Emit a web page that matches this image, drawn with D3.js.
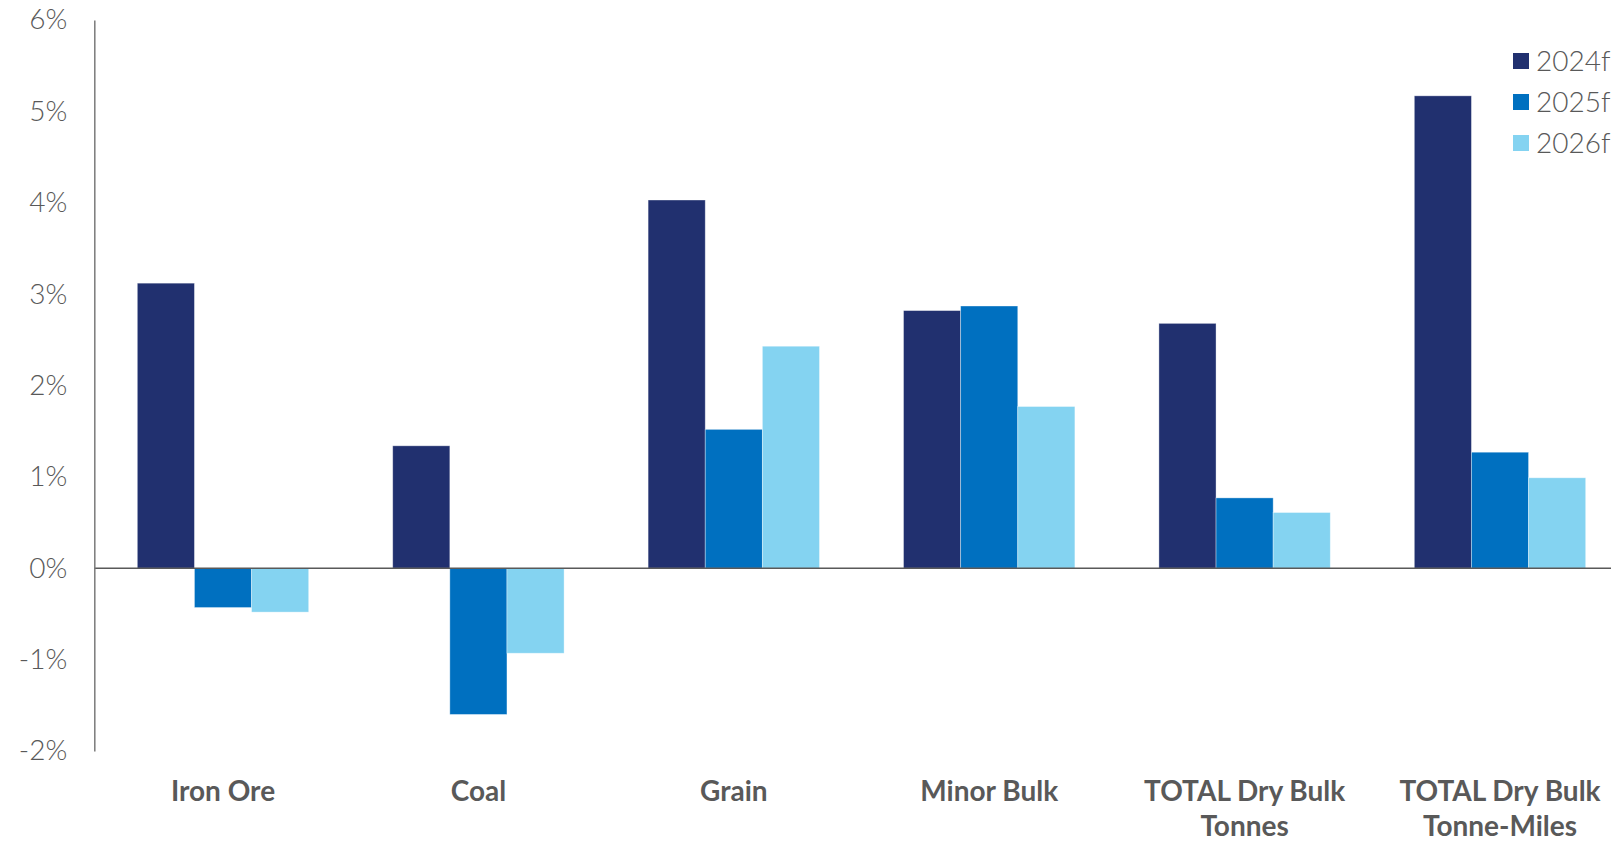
<!DOCTYPE html>
<html>
<head>
<meta charset="utf-8">
<script src="https://cdn.jsdelivr.net/npm/d3@7"></script>
<style>
  html, body { margin: 0; padding: 0; background: #fff; overflow: hidden; }
  svg { display: block; }
</style>
</head>
<body>
<svg id="chart" width="1611" height="841"></svg>
<script>
const categories = ["Iron Ore", "Coal", "Grain", "Minor Bulk", "TOTAL Dry Bulk Tonnes", "TOTAL Dry Bulk Tonne-Miles"];
const categoryLines = [["Iron Ore"], ["Coal"], ["Grain"], ["Minor Bulk"], ["TOTAL Dry Bulk", "Tonnes"], ["TOTAL Dry Bulk", "Tonne-Miles"]];
const seriesNames = ["2024f", "2025f", "2026f"];
const values2024f = [3.12, 1.34, 4.03, 2.82, 2.68, 5.17];
const values2025f = [-0.43, -1.60, 1.52, 2.87, 0.77, 1.27];
const values2026f = [-0.48, -0.93, 2.43, 1.77, 0.61, 0.99];
const seriesColors = ["#21306f", "#0070c0", "#84d3f1"];
const yTicks = [-2, -1, 0, 1, 2, 3, 4, 5, 6];

const seriesValues = [values2024f, values2025f, values2026f];
const data = categories.map((c, i) => ({
  category: c,
  lines: categoryLines[i],
  values: seriesNames.map((s, j) => ({ series: s, value: seriesValues[j][i] }))
}));

const svg = d3.select("#chart");
const font = "Lato, 'Open Sans', sans-serif";
const textColor = "#595959";

const y = d3.scaleLinear().domain([-2, 6]).range([751, 20]);
const pad = 0.329;
const x0 = d3.scaleBand().domain(categories).range([95.3, 1627.7])
  .paddingInner(pad).paddingOuter(pad / 2);
const x1 = d3.scaleBand().domain(seriesNames).range([0, x0.bandwidth()]).padding(0);
const color = d3.scaleOrdinal().domain(seriesNames).range(seriesColors);

// Bars
const groups = svg.append("g").selectAll("g").data(data).join("g")
  .attr("transform", d => `translate(${x0(d.category)},0)`);
groups.selectAll("rect").data(d => d.values).join("rect")
  .attr("x", d => x1(d.series))
  .attr("width", x1.bandwidth())
  .attr("y", d => y(Math.max(0, d.value)))
  .attr("height", d => Math.abs(y(d.value) - y(0)))
  .attr("fill", d => color(d.series))
  .attr("stroke", "rgba(255,255,255,0.45)")
  .attr("stroke-width", 0.8);

// Zero line
svg.append("line")
  .attr("x1", 94).attr("x2", 1611)
  .attr("y1", y(0)).attr("y2", y(0))
  .attr("stroke", "#595959").attr("stroke-width", 1.5);

// Y axis
const yAxis = svg.append("g")
  .attr("transform", "translate(94.3,0)")
  .call(d3.axisLeft(y).tickValues(yTicks).tickSize(0).tickPadding(27).tickFormat(d => d + "%"));
yAxis.select(".domain").attr("stroke", "#7a7a7a").attr("stroke-width", 1.5);
yAxis.selectAll("text")
  .attr("font-family", font).attr("font-size", 28).attr("font-weight", 300)
  .attr("fill", textColor);

// X axis labels
const xAxis = svg.append("g")
  .attr("transform", "translate(0,751)")
  .call(d3.axisBottom(x0).tickSize(0).tickFormat(""));
xAxis.select(".domain").remove();
xAxis.selectAll(".tick").each(function(cat, i) {
  const t = d3.select(this).append("text")
    .attr("font-family", font).attr("font-size", 28).attr("font-weight", 700)
    .attr("fill", textColor).attr("text-anchor", "middle");
  categoryLines[i].forEach((line, k) => {
    t.append("tspan").attr("x", 0).attr("y", 50 + k * 35).text(line);
  });
});

// Legend
const legend = svg.append("g").selectAll("g").data(seriesNames).join("g")
  .attr("transform", (d, i) => `translate(1513, ${61 + i * 41})`);
legend.append("rect")
  .attr("x", 0).attr("y", -8).attr("width", 16).attr("height", 16)
  .attr("fill", d => color(d));
legend.append("text")
  .attr("x", 23).attr("y", 0).attr("dy", "0.36em")
  .attr("font-family", font).attr("font-size", 28).attr("font-weight", 300)
  .attr("fill", textColor)
  .text(d => d);
</script>
</body>
</html>
